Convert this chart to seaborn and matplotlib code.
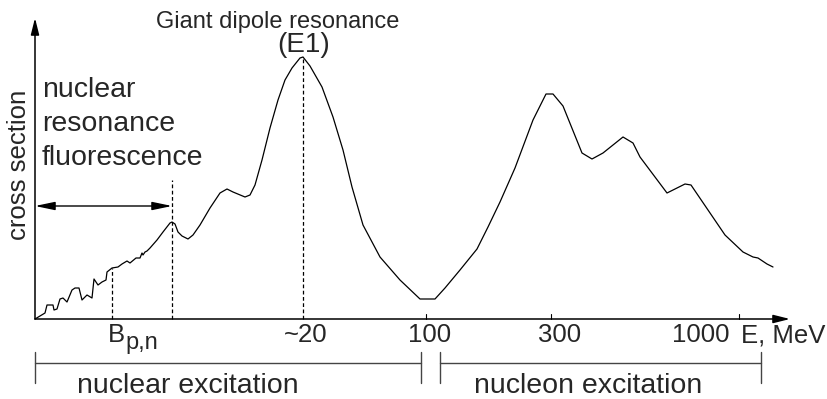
import matplotlib
matplotlib.use("Agg")
import matplotlib.pyplot as plt
import seaborn as sns
import pandas as pd

# Schematic photo-absorption cross section (positions along the energy axis, arbitrary units)
energy_pos = [0, 10, 12, 18, 19, 22, 25, 28, 32, 37, 40, 44, 47, 52, 57, 59, 63, 67, 71, 72,
              77, 83, 87, 92, 95, 101, 105, 107, 108, 110, 112, 115, 122, 128, 135, 137, 140,
              143, 147, 153, 158, 165, 175, 185, 192, 198, 210, 215, 220, 227, 235, 243, 250,
              257, 265, 268, 275, 287, 298, 308, 317, 328, 345, 365, 385, 400, 410, 425, 442,
              453, 465, 480, 498, 511, 518, 528, 547, 557, 568, 588, 598, 605, 632, 642, 650,
              656, 690, 708, 718, 723, 732, 738]
cross_section = [0, 6, 14, 14, 9, 10, 20, 21, 17, 29, 31, 31, 19, 24, 21, 40, 34, 37, 39, 47,
                 51, 52, 55, 58, 56, 61, 61, 66, 64, 67, 68, 71, 79, 87, 96, 97, 95,
                 87, 83, 80, 84, 94, 111, 126, 130, 127, 122, 124, 134, 159, 191, 219, 239,
                 251, 261, 262, 253, 232, 202, 169, 132, 94, 62, 39, 20, 20, 31, 49, 70,
                 92, 117, 151, 199, 225, 225, 213, 166, 160, 166, 182, 176, 162, 126, 131, 135,
                 134, 84, 67, 62, 61, 55, 52]

tick_marks = [391, 516, 704]
tick_labels = ["~20", "100", "300", "1000"]
tick_label_pos = [271, 395, 525, 666]
marker_pos = [77, 137, 268]          # dashed guide lines
marker_height = [51, 139, 262]
region_labels = ["nuclear excitation", "nucleon excitation"]
region_start = [0, 405]
region_end = [386, 726]
region_label_pos = [153, 553]

sns.set_style("white")
plt.rcParams["font.family"] = ["Liberation Sans", "DejaVu Sans"]

fig = plt.figure(figsize=(8.27, 3.99), dpi=100)
ax = fig.add_axes([0, 0, 1, 1])
ax.set_xlim(-35, 792)
ax.set_ylim(-80, 319)
ax.axis("off")

df = pd.DataFrame({"E": energy_pos, "sigma": cross_section})
sns.lineplot(data=df, x="E", y="sigma", ax=ax, color="black", lw=0.9, sort=False)

# axes with arrows
ax.annotate("", xy=(755, 0), xytext=(0, 0),
            arrowprops=dict(arrowstyle="-|>,head_length=1.0,head_width=0.25", color="black", lw=1.1,
                            shrinkA=0, shrinkB=0))
ax.annotate("", xy=(0, 301), xytext=(0, 0),
            arrowprops=dict(arrowstyle="-|>,head_length=1.0,head_width=0.25", color="black", lw=1.1,
                            shrinkA=0, shrinkB=0))

# dashed guides
for xp, h in zip(marker_pos, marker_height):
    ax.plot([xp, xp], [0, h], color="black", lw=0.9, ls=(0, (3, 2)))

# small ticks
for xp in tick_marks:
    ax.plot([xp, xp], [0, 5], color="black", lw=0.8)

# tick labels
ax.text(73, -16, "B", ha="left", va="center", fontsize=18.5)
ax.text(90, -24, "p,n", ha="left", va="center", fontsize=17)
for xp, lab in zip(tick_label_pos, tick_labels):
    ax.text(xp, -16, lab, ha="center", va="center", fontsize=18.5)
ax.text(706, -16, "E, MeV", ha="left", va="center", fontsize=18.5)

# double arrow for nuclear resonance fluorescence
ax.annotate("", xy=(0, 113), xytext=(137, 113),
            arrowprops=dict(arrowstyle="<|-|>,head_length=1.2,head_width=0.25", color="black", lw=1.0,
                            shrinkA=0, shrinkB=0))
for i, line in enumerate(["nuclear", "resonance", "fluorescence"]):
    ax.text(7, 229 - 34 * i, line, ha="left", va="center", fontsize=20.5)

ax.text(243, 297, "Giant dipole resonance", ha="center", va="center", fontsize=17)
ax.text(269, 274, "(E1)", ha="center", va="center", fontsize=20)
ax.text(-16, 154, "cross section", ha="center", va="center", rotation=90, fontsize=18.5)

# region brackets
for s, e, xl, lab in zip(region_start, region_end, region_label_pos, region_labels):
    ax.plot([s, e], [-44, -44], color="#444444", lw=1.0)
    ax.plot([s, s], [-33, -64], color="#444444", lw=1.0)
    ax.plot([e, e], [-33, -64], color="#444444", lw=1.0)
    ax.text(xl, -67, lab, ha="center", va="center", fontsize=20.5)

fig.savefig("out.png", dpi=100)
